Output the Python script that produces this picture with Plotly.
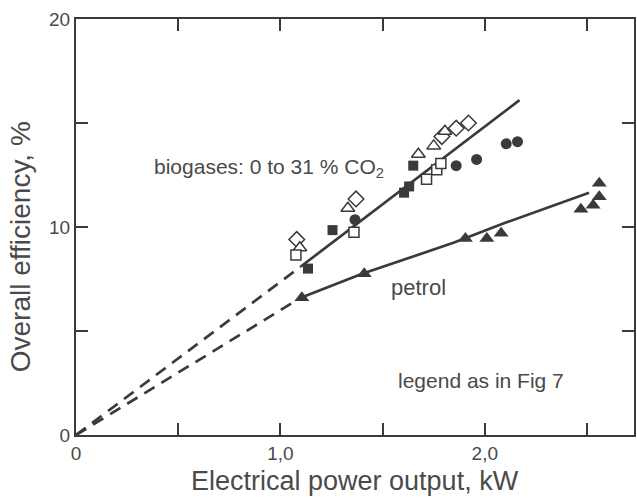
import plotly.graph_objects as go

# ---- data (kW, %) ----
diam_open_x = [1.08, 1.37, 1.79, 1.86, 1.92]
diam_open_y = [9.4, 11.35, 14.35, 14.75, 15.0]

tri_open_x = [1.095, 1.33, 1.675, 1.75, 1.805]
tri_open_y = [9.0, 10.9, 13.5, 13.9, 14.6]

sq_open_x = [1.076, 1.36, 1.715, 1.765, 1.785]
sq_open_y = [8.65, 9.75, 12.3, 12.75, 13.05]

sq_fill_x = [1.135, 1.255, 1.605, 1.63, 1.65]
sq_fill_y = [8.0, 9.85, 11.65, 11.95, 12.95]

circ_fill_x = [1.365, 1.86, 1.96, 2.105, 2.16]
circ_fill_y = [10.35, 12.95, 13.25, 14.0, 14.1]

petrol_x = [1.105, 1.41, 1.905, 2.01, 2.08, 2.47, 2.53, 2.56, 2.56]
petrol_y = [6.6, 7.75, 9.45, 9.45, 9.7, 10.85, 11.05, 11.45, 12.1]

# fitted curves
bio_dash_x = [0, 1.1]
bio_dash_y = [0, 8.1]
bio_solid_x = [1.1, 2.17]
bio_solid_y = [8.1, 16.1]

pet_dash_x = [0, 1.1]
pet_dash_y = [0, 6.6]
pet_solid_x = [1.1, 1.4, 1.85, 2.1, 2.51]
pet_solid_y = [6.6, 7.75, 9.25, 10.2, 11.65]

x_tickvals = [0, 0.5, 1.0, 1.5, 2.0, 2.5]
x_ticktext = ["0", " ", "1,0", " ", "2,0", " "]
y_tickvals = [0, 5, 10, 15, 20]
y_ticktext = ["0", " ", "10", " ", "20"]

INK = "#3a3a3a"
TXT = "#4a4a4a"
FONT = "Liberation Sans, Arial, sans-serif"

fig = go.Figure()

for lx, ly, dash in [(bio_dash_x, bio_dash_y, "12px,8px"),
                     (bio_solid_x, bio_solid_y, "solid"),
                     (pet_dash_x, pet_dash_y, "12px,8px"),
                     (pet_solid_x, pet_solid_y, "solid")]:
    fig.add_trace(go.Scatter(x=lx, y=ly, mode="lines",
                             line=dict(color=INK, width=2.7, dash=dash),
                             showlegend=False, hoverinfo="skip"))

def pts(x, y, symbol, size, filled):
    fig.add_trace(go.Scatter(
        x=x, y=y, mode="markers", showlegend=False,
        marker=dict(symbol=symbol, size=size,
                    color=INK if filled else "white",
                    line=dict(color=INK, width=0 if filled else 1.5))))

pts(diam_open_x, diam_open_y, "diamond", 12, False)
pts(tri_open_x, tri_open_y, "triangle-up", 12, False)
pts(sq_open_x, sq_open_y, "square", 10, False)
pts(sq_fill_x, sq_fill_y, "square", 10, True)
pts(circ_fill_x, circ_fill_y, "circle", 11, True)
pts(petrol_x, petrol_y, "triangle-up", 13, True)

axis_common = dict(showgrid=False, zeroline=False, showline=True,
                   linecolor=INK, linewidth=2, mirror="ticks",
                   ticks="inside", ticklen=12, tickwidth=2, tickcolor=INK,
                   tickfont=dict(family=FONT, size=19, color=TXT))

fig.update_xaxes(range=[0, 2.73], tickvals=x_tickvals, ticktext=x_ticktext,
                 **axis_common)
fig.update_yaxes(range=[0, 20], tickvals=y_tickvals, ticktext=y_ticktext,
                 **axis_common)

ann = [
    dict(x=1.517, y=12.85, xref="x", yref="y", xanchor="right", yanchor="middle",
         text="biogases: 0 to 31 % CO<sub>2</sub>", font=dict(size=21)),
    dict(x=1.532, y=7.08, xref="x", yref="y", xanchor="left", yanchor="middle",
         text="petrol", font=dict(size=22)),
    dict(x=2.395, y=2.6, xref="x", yref="y", xanchor="right", yanchor="middle",
         text="legend as in Fig 7", font=dict(size=21)),
    dict(x=0.5, y=-0.111, xref="paper", yref="paper", xanchor="center", yanchor="middle",
         text="Electrical power output, kW", font=dict(size=27)),
    dict(x=-0.098, y=0.452, xref="paper", yref="paper", xanchor="center", yanchor="middle",
         text="Overall efficiency, %", textangle=-90, font=dict(size=28)),
]
for a in ann:
    a["showarrow"] = False
    a["font"].update(family=FONT, color=TXT)
    fig.add_annotation(**a)

fig.update_layout(width=637, height=499,
                  margin=dict(l=76, r=1, t=19, b=64),
                  paper_bgcolor="white", plot_bgcolor="white")

fig.write_html("out.html")
